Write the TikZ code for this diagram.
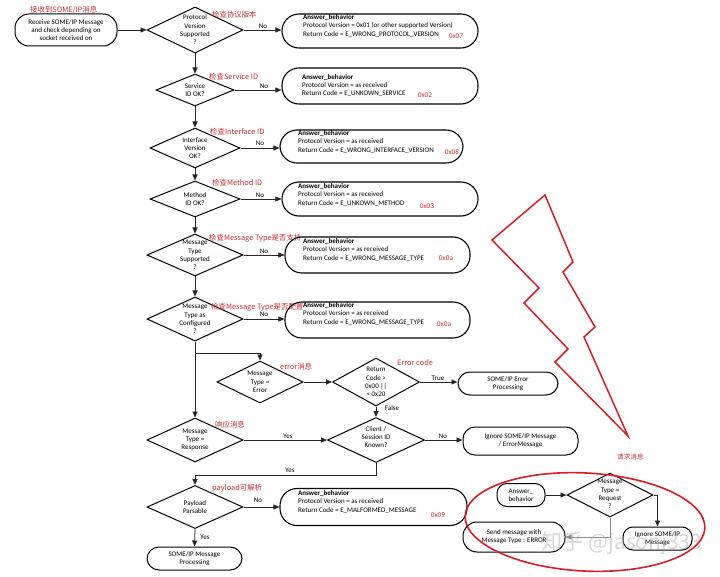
\documentclass[tikz,border=0pt]{standalone}
\usepackage{fontspec}
\setmainfont{Carlito}
\newfontfamily\cjk{Noto Sans CJK SC}
\usetikzlibrary{shapes.geometric,arrows.meta}
\definecolor{redl}{RGB}{200,45,50}
\definecolor{boltred}{RGB}{215,30,40}
\begin{document}
\begin{tikzpicture}[x=1pt,y=-1pt,
  font=\fontsize{7}{8.3}\selectfont,
  dia/.style args={#1/#2}{diamond,draw,line width=1pt,inner sep=0pt,minimum width=#1,minimum height=#2},
  dtext/.style={align=center,inner sep=0pt},
  stad/.style={draw,line width=1pt,rounded corners=12pt,align=center,inner sep=0pt},
  ansbox/.style={draw,line width=1.1pt,rounded corners=17pt},
  anstext/.style={anchor=north west,align=left,inner sep=0pt},
  hex/.style={text=redl,font=\fontsize{7.3}{8}\selectfont,inner sep=0pt},
  cn/.style={text=redl,anchor=west,inner sep=0pt,font=\cjk\fontsize{7.4}{8}\selectfont},
  lab/.style={inner sep=0pt,font=\fontsize{7}{8}\selectfont},
  arr/.style={draw=black!85,line width=0.8pt,-{Triangle[length=6pt,width=5pt]}},
  ln/.style={draw=black!85,line width=0.8pt}]
\useasboundingbox (0,0) rectangle (720,577);
\fill[white] (0,0) rectangle (720,577);

% ---------- start ----------
\node[stad,minimum width=102,minimum height=32,rounded corners=14pt] (start) at (66,30) {Receive SOME/IP Message\\and check depending on\\socket received on};
\node[cn] (l0) at (30,10) {接收到SOME/IP消息};

% ---------- diamonds ----------
\node[dia=96/46] (d1) at (195,30) {};
\node[dtext] (d1t) at (d1) {Protocol\\Version\\Supported\\?};
\node[dia=78/32] (d2) at (195,90) {};
\node[dtext] (d2t) at (d2) {Service\\ID OK?};
\node[dia=90/40] (d3) at (195,148) {};
\node[dtext] (d3t) at (d3) {Interface\\Version\\OK?};
\node[dia=90/36] (d4) at (195,199) {};
\node[dtext] (d4t) at (d4) {Method\\ID OK?};
\node[dia=96/42] (d5) at (195,255) {};
\node[dtext] (d5t) at (d5) {Message\\Type\\Supported\\?};
\node[dia=96/44] (d6) at (195,319) {};
\node[dtext] (d6t) at (d6) {Message\\Type as\\Configured\\?};
\node[dia=86/42] (de) at (260,382) {};
\node[dtext] (det) at (de) {Message\\Type =\\Error};
\node[dia=87/48] (dr) at (376,382) {};
\node[dtext] (drt) at (dr) {Return\\Code >\\0x00 ||\\< 0x20};
\node[dia=97/45] (dc) at (376,440) {};
\node[dtext] (dct) at (376,437) {Client /\\Session ID\\Known?};
\node[dia=96/44] (dresp) at (195,440) {};
\node[dtext] (drespt) at (dresp) {Message\\Type =\\Response};
\node[dia=96/43] (dp) at (195,507) {};
\node[dtext] (dpt) at (dp) {Payload\\Parsable};

% ---------- red labels ----------
\node[cn] (l1) at (212,15) {检查协议版本};
\node[cn] (l2) at (209,77) {检查Service ID};
\node[cn] (l3) at (210,132) {检查Interface ID};
\node[cn] (l4) at (212,183) {检查Method ID};
\node[cn] (l5) at (209,238) {检查Message Type是否支持};
\node[cn] (l6) at (211,307) {检查Message Type是否配置};
\node[cn] (l7) at (280,367) {error消息};
\node[cn] (l8) at (397,363) {Error code};
\node[cn] (l9) at (215,425) {响应消息};
\node[cn] (l10) at (212,488) {payload可解析};

% ---------- answer boxes ----------
\node[ansbox,minimum width=196,minimum height=34] (a1) at (380,31) {};
\node[anstext] (a1t) at (303,14.5) {\textbf{Answer\_behavior}\\Protocol Version = 0x01 (or other supported Version)\\Return Code = E\_WRONG\_PROTOCOL\_VERSION};
\node[hex] (h1) at (456,36) {0x07};
\node[ansbox,minimum width=196,minimum height=36] (a2) at (380,86) {};
\node[anstext] (a2t) at (302,74) {\textbf{Answer\_behavior}\\Protocol Version = as received\\Return Code = E\_UNKOWN\_SERVICE};
\node[hex] (h2) at (425,95) {0x02};
\node[ansbox,minimum width=183,minimum height=33] (a3) at (371.5,146.5) {};
\node[anstext] (a3t) at (298,130.5) {\textbf{Answer\_behavior}\\Protocol Version = as received\\Return Code = E\_WRONG\_INTERFACE\_VERSION};
\node[hex] (h3) at (452,152) {0x08};
\node[ansbox,minimum width=196,minimum height=34] (a4) at (380,199) {};
\node[anstext] (a4t) at (298,183.5) {\textbf{Answer\_behavior}\\Protocol Version = as received\\Return Code = E\_UNKOWN\_METHOD};
\node[hex] (h4) at (427,206) {0x03};
\node[ansbox,minimum width=185,minimum height=36] (a5) at (377.5,255) {};
\node[anstext] (a5t) at (303,238.5) {\textbf{Answer\_behavior}\\Protocol Version = as received\\Return Code = E\_WRONG\_MESSAGE\_TYPE};
\node[hex] (h5) at (446,258) {0x0a};
\node[ansbox,minimum width=185,minimum height=36] (a6) at (377.5,320) {};
\node[anstext] (a6t) at (303,302.5) {\textbf{Answer\_behavior}\\Protocol Version = as received\\Return Code = E\_WRONG\_MESSAGE\_TYPE};
\node[hex] (h6) at (444,324) {0x0a};
\node[ansbox,minimum width=187,minimum height=37] (a7) at (373.5,507) {};
\node[anstext] (a7t) at (298,490.5) {\textbf{Answer\_behavior}\\Protocol Version = as received\\Return Code = E\_MALFORMED\_MESSAGE};
\node[hex] (h7) at (438,515) {0x09};

% ---------- terminal boxes ----------
\node[stad,minimum width=100,minimum height=23] (errp) at (508,383.5) {SOME/IP Error\\Processing};
\node[stad,minimum width=115,minimum height=28] (ign) at (520.5,441) {Ignore SOME/IP Message\\/ ErrorMessage};
\node[stad,minimum width=95,minimum height=23] (proc) at (194.5,558.5) {SOME/IP Message\\Processing};

% ---------- main connectors ----------
\draw[arr] (start.east |- d1.west) -- (d1.west);
\draw[arr] (d1.south) -- (d2.north);
\draw[arr] (d2.south) -- (d3.north);
\draw[arr] (d3.south) -- (d4.north);
\draw[arr] (d4.south) -- (d5.north);
\draw[arr] (d5.south) -- (d6.north);
\draw[arr] (d6.south) -- (dresp.north);

\draw[arr] (d1.east) -- (d1.east -| a1.west);
\draw[arr] (d2.east) -- (d2.east -| a2.west);
\draw[arr] (d3.east) -- (d3.east -| a3.west);
\draw[arr] (d4.east) -- (d4.east -| a4.west);
\draw[arr] (d5.east) -- (d5.east -| a5.west);
\draw[arr] (d6.east) -- (d6.east -| a6.west);
\node[lab] (n1) at (263,26) {No};
\node[lab] (n2) at (264,86) {No};
\node[lab] (n3) at (260,143) {No};
\node[lab] (n4) at (260,195) {No};
\node[lab] (n5) at (264,251) {No};
\node[lab] (n6) at (264,314) {No};

\coordinate (br) at (195,353);
\draw[arr] (br) -| (de.north);
\draw[arr] (de.east) -- (dr.west);
\draw[arr] (dr.east) -- (errp.west |- dr.east);
\node[lab] (tr) at (438,378) {True};
\draw[arr] (dr.south) -- (dc.north);
\node[lab] (fa) at (392,408) {False};
\draw[arr] (dresp.east) -- (dc.west);
\node[lab] (y1) at (288,436) {Yes};
\draw[arr] (dc.east) -- (ign.west |- dc.east);
\node[lab] (n7) at (443,436) {No};
\coordinate (jy) at (195,475);
\draw[arr] (dc.south) |- (jy) -- (dp.north);
\node[lab] (y2) at (290,470) {Yes};
\draw[arr] (dp.east) -- (dp.east -| a7.west);
\node[lab] (n8) at (258,500) {No};
\draw[arr] (dp.south) -- (proc.north);
\node[lab] (y3) at (205,537) {Yes};

% ---------- lightning ----------
\draw[boltred,line width=1.5pt,line join=miter] (545,195) -- (492,240) -- (539,288) -- (524,303) -- (568,349) -- (555,362) -- (628,436) -- (584,337) -- (595,327) -- (563,272) -- (573,262) -- cycle;

% ---------- request part ----------
\node[cn,font=\cjk\fontsize{6.6}{8}\selectfont] (l11) at (617,457) {请求消息};
\node[stad,minimum width=48,minimum height=23,rounded corners=10pt] (ans2) at (521,495) {Answer\_\\behavior};
\node[dia=86/44] (dq) at (610,495) {};
\node[dtext] (dqt) at (610,494) {Message\\Type =\\Request\\?};
\node[stad,minimum width=102,minimum height=30,rounded corners=14pt] (send) at (514,537) {Send message with\\Message Type : ERROR};
\node[stad,minimum width=69,minimum height=23,rounded corners=10pt] (ign2) at (657.5,538.5) {Ignore SOME/IP\\Message};
\draw[arr] (ans2.east) -- (dq.west);
\draw[arr] (dq.east) -| (ign2.north);
\draw[arr,draw=black!45] (dq.south) |- (send.east);
\draw[boltred,line width=1.6pt,rotate around={-3:(585,522)}] (585,522) ellipse [x radius=120,y radius=49];

\node[text=gray!70,opacity=0.45,inner sep=0pt,font=\cjk\fontsize{21}{21}\selectfont] (wm) at (622,543) {知乎 @jasonj333};
\end{tikzpicture}
\end{document}
